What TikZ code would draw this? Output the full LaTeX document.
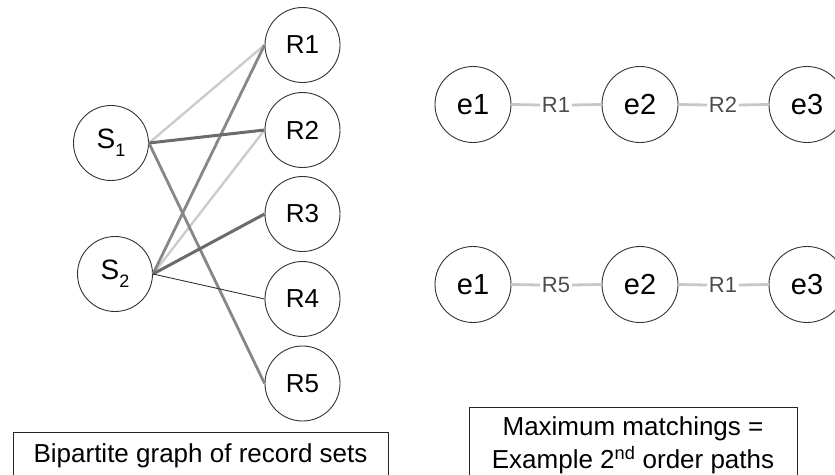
\documentclass[tikz,border=0pt]{standalone}
\usepackage{fontspec}
\setmainfont{Liberation Sans}
\begin{document}
\begin{tikzpicture}[x=1pt,y=-1pt,
  vert/.style={circle,draw=black!80,line width=0.9pt,minimum size=75pt,inner sep=0pt,font=\fontsize{26}{30}\selectfont},
  evert/.style={vert,minimum size=76pt,font=\fontsize{29}{33}\selectfont},
  svert/.style={vert,font=\fontsize{28}{32}\selectfont},
  lightedge/.style={draw=black!20,line width=2.4pt},
  midedge/.style={draw=black!47,line width=2.8pt},
  darkedge/.style={draw=black!58,line width=3pt},
  thinedge/.style={draw=black!80,line width=0.9pt},
  chain/.style={draw=black!22,line width=2.8pt},
  elabel/.style={inner sep=1.5pt,text=black!70,font=\fontsize{22}{26}\selectfont},
  caption/.style={draw=black!85,line width=0.9pt,align=center,font=\fontsize{26}{33}\selectfont,anchor=north,inner sep=0pt}
]
\useasboundingbox (0,0) rectangle (835,474);
\clip (0,0) rectangle (835,474);
% bipartite graph
\node[svert] (S1) at (111,143) {S\raisebox{-0.28em}{\fontsize{18}{20}\selectfont 1}};
\node[svert] (S2) at (115,274) {S\raisebox{-0.28em}{\fontsize{18}{20}\selectfont 2}};
\node[vert] (R1) at (302.5,45) {R1};
\node[vert] (R2) at (302.5,130) {R2};
\node[vert] (R3) at (302.5,214) {R3};
\node[vert] (R4) at (302.5,299) {R4};
\node[vert] (R5) at (302.5,383.5) {R5};
\draw[lightedge] (S1.east) -- (R1.west);
\draw[lightedge] (S2.east) -- (R2.west);
\draw[midedge] (S2.east) -- (R1.west);
\draw[midedge] (S1.east) -- (R5.west);
\draw[darkedge] (S1.east) -- (R2.west);
\draw[darkedge] (S2.east) -- (R3.west);
\draw[thinedge] (S2.east) -- (R4.west);
% paths
\node[evert] (a1) at (473,104.5) {e1};
\node[evert] (a2) at (640,104.5) {e2};
\node[evert] (a3) at (807,104.5) {e3};
\node[elabel] (ar1) at (556,105) {R1};
\node[elabel] (ar2) at (723,105) {R2};
\draw[chain] (a1.east) -- (ar1.west);
\draw[chain] (ar1.east) -- (a2.west);
\draw[chain] (a2.east) -- (ar2.west);
\draw[chain] (ar2.east) -- (a3.west);
\node[evert] (b1) at (473,284.5) {e1};
\node[evert] (b2) at (640,284.5) {e2};
\node[evert] (b3) at (807,284.5) {e3};
\node[elabel] (br5) at (556,285) {R5};
\node[elabel] (br1) at (723,285) {R1};
\draw[chain] (b1.east) -- (br5.west);
\draw[chain] (br5.east) -- (b2.west);
\draw[chain] (b2.east) -- (br1.west);
\draw[chain] (br1.east) -- (b3.west);
% captions
\node[caption,minimum width=375pt] (capL) at (200.5,432) {\rule{0pt}{30pt}Bipartite graph of record sets\rule[-40pt]{0pt}{0pt}};
\node[caption,minimum width=328pt] (capR) at (633,407) {\rule{0pt}{28pt}Maximum matchings =\\Example 2\textsuperscript{nd} order paths\rule[-30pt]{0pt}{0pt}};
\end{tikzpicture}
\end{document}
